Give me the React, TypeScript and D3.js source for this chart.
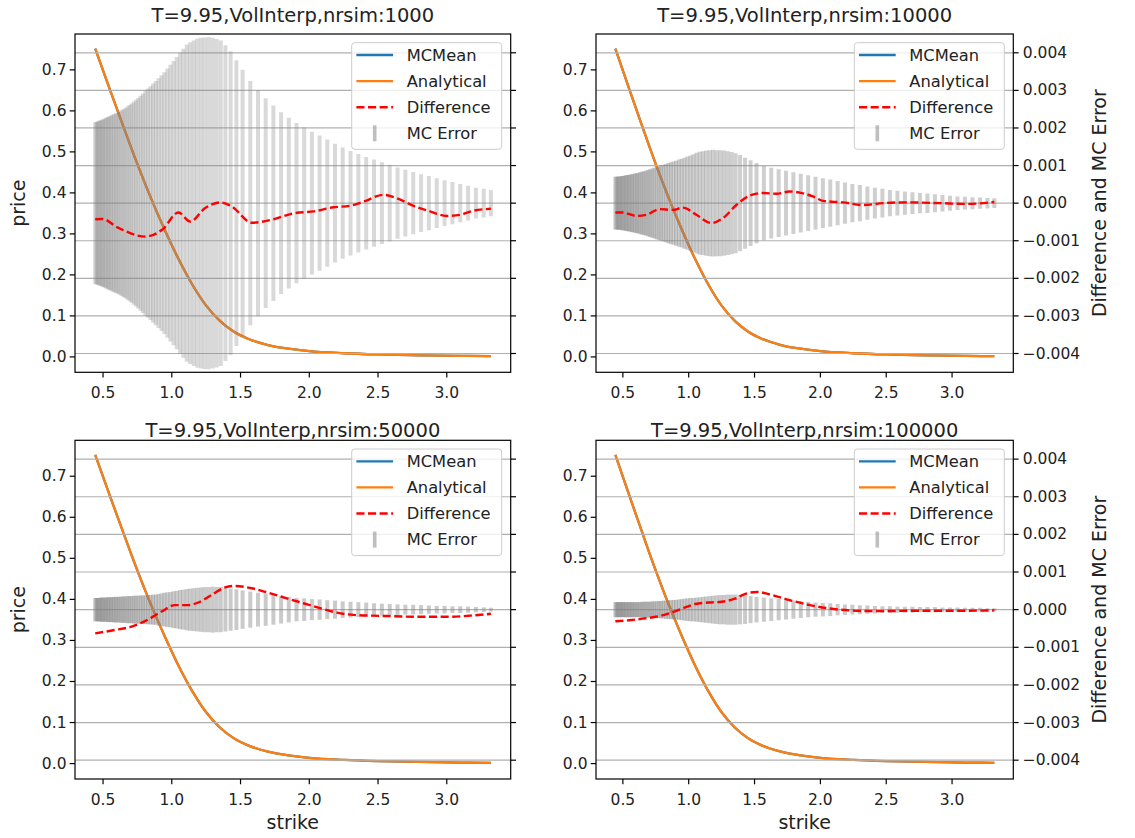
import React from "react";
import * as d3 from "d3";

// ---------------- data ----------------
const strikes = [
  0.443, 0.452, 0.461, 0.471, 0.481, 0.491, 0.501, 0.512, 0.523, 0.534,
  0.545, 0.557, 0.569, 0.581, 0.594, 0.607, 0.62, 0.634, 0.648, 0.662,
  0.677, 0.692, 0.707, 0.723, 0.739, 0.756, 0.773, 0.79, 0.808, 0.826,
  0.845, 0.864, 0.884, 0.904, 0.925, 0.946, 0.968, 0.99, 1.013, 1.036,
  1.06, 1.084, 1.109, 1.134, 1.16, 1.186, 1.213, 1.24, 1.268, 1.297,
  1.326, 1.356, 1.39, 1.428, 1.47, 1.515, 1.571, 1.627, 1.683, 1.739,
  1.795, 1.851, 1.907, 1.963, 2.019, 2.075, 2.131, 2.187, 2.243, 2.3,
  2.357, 2.414, 2.471, 2.528, 2.585, 2.642, 2.699, 2.756, 2.813, 2.87,
  2.927, 2.984, 3.041, 3.098, 3.155, 3.212, 3.269, 3.321,
];

// MC error half-widths, in units of 1e-4
const mcError1000 = [
  21.5, 21.6, 21.8, 21.9, 22.0, 22.2, 22.3, 22.5, 22.7, 22.9,
  23.1, 23.3, 23.5, 23.7, 23.9, 24.1, 24.4, 24.7, 25.0, 25.3,
  25.7, 26.1, 26.5, 27.0, 27.5, 28.0, 28.6, 29.2, 29.9, 30.5,
  31.1, 31.8, 32.5, 33.2, 34.0, 34.8, 35.8, 36.8, 37.8, 38.9,
  40.0, 41.1, 42.2, 42.8, 43.3, 43.8, 44.0, 44.1, 44.2, 44.0,
  43.7, 43.3, 42.0, 40.4, 38.0, 35.5, 32.5, 30.1, 27.9, 26.0,
  24.2, 22.7, 21.3, 20.1, 19.0, 18.0, 16.9, 15.8, 14.8, 13.9,
  13.1, 12.3, 11.6, 10.9, 10.2, 9.5, 8.9, 8.3, 7.7, 7.2,
  6.6, 6.1, 5.6, 5.1, 4.6, 4.1, 3.8, 3.5,
];
const mcError10000 = [
  7.0, 7.0, 7.1, 7.1, 7.1, 7.2, 7.2, 7.3, 7.4, 7.5,
  7.5, 7.6, 7.7, 7.8, 7.9, 8.0, 8.1, 8.3, 8.4, 8.5,
  8.7, 8.9, 9.0, 9.2, 9.4, 9.6, 9.8, 10.0, 10.2, 10.4,
  10.7, 10.9, 11.1, 11.3, 11.6, 11.8, 12.1, 12.4, 12.7, 13.0,
  13.4, 13.7, 13.8, 14.0, 14.1, 14.2, 14.1, 14.1, 14.0, 13.8,
  13.6, 13.3, 12.8, 12.1, 11.4, 10.7, 9.9, 9.4, 9.0, 8.6,
  8.2, 7.8, 7.4, 7.0, 6.6, 6.3, 5.9, 5.5, 5.1, 4.8,
  4.4, 4.1, 3.8, 3.5, 3.3, 3.1, 2.9, 2.7, 2.6, 2.4,
  2.2, 2.0, 1.8, 1.7, 1.6, 1.5, 1.4, 1.3,
];
const mcError50000 = [
  3.1, 3.1, 3.1, 3.1, 3.2, 3.2, 3.2, 3.2, 3.2, 3.3,
  3.3, 3.3, 3.3, 3.4, 3.4, 3.4, 3.4, 3.5, 3.5, 3.5,
  3.6, 3.6, 3.6, 3.7, 3.7, 3.7, 3.8, 3.8, 3.8, 3.9,
  3.9, 4.0, 4.0, 4.2, 4.3, 4.5, 4.6, 4.7, 4.9, 5.0,
  5.2, 5.3, 5.5, 5.6, 5.7, 5.8, 5.9, 6.0, 6.0, 6.1,
  6.0, 6.0, 5.8, 5.6, 5.4, 5.1, 4.8, 4.5, 4.3, 4.0,
  3.7, 3.4, 3.1, 3.0, 2.8, 2.7, 2.5, 2.4, 2.2, 2.1,
  2.0, 1.9, 1.7, 1.6, 1.5, 1.4, 1.3, 1.3, 1.2, 1.1,
  1.0, 1.0, 0.9, 0.9, 0.8, 0.7, 0.6, 0.5,
];
const mcError100000 = [
  2.0, 2.0, 2.0, 2.0, 2.0, 2.0, 2.0, 2.0, 2.0, 2.0,
  2.0, 2.0, 2.0, 2.0, 2.0, 2.0, 2.0, 2.0, 2.1, 2.1,
  2.1, 2.1, 2.1, 2.2, 2.2, 2.2, 2.3, 2.3, 2.4, 2.4,
  2.5, 2.5, 2.6, 2.6, 2.7, 2.8, 2.9, 3.0, 3.1, 3.1,
  3.2, 3.3, 3.4, 3.5, 3.6, 3.7, 3.8, 3.9, 3.9, 4.0,
  4.0, 4.0, 3.9, 3.8, 3.6, 3.4, 3.2, 3.0, 2.8, 2.6,
  2.4, 2.2, 2.0, 1.9, 1.8, 1.7, 1.5, 1.4, 1.3, 1.2,
  1.1, 1.0, 0.9, 0.9, 0.8, 0.8, 0.8, 0.7, 0.7, 0.7,
  0.6, 0.6, 0.6, 0.5, 0.5, 0.5, 0.4, 0.4,
];

// price curves
const curveStrikes = [0.443, 0.55, 0.65, 0.75, 0.85, 0.95, 1.05, 1.15, 1.25, 1.35, 1.45, 1.55, 1.7, 1.85, 2.0, 2.25, 2.5, 2.8, 3.1, 3.321];
const analyticalPrice = [0.752, 0.652, 0.56, 0.47, 0.386, 0.309, 0.238, 0.176, 0.125, 0.088, 0.062, 0.045, 0.029, 0.02, 0.014, 0.009, 0.006, 0.004, 0.0025, 0.002];
const mcMeanPrice = [0.752, 0.652, 0.56, 0.47, 0.386, 0.309, 0.238, 0.176, 0.125, 0.088, 0.062, 0.045, 0.029, 0.02, 0.014, 0.009, 0.006, 0.004, 0.0025, 0.002];

// Difference (MCMean - Analytical), units of 1e-4
const diffStrikes1000 = [0.443, 0.493, 0.613, 0.807, 0.929, 1.049, 1.134, 1.243, 1.352, 1.437, 1.583, 1.728, 1.885, 2.031, 2.176, 2.297, 2.394, 2.539, 2.637, 2.757, 2.879, 3.0, 3.097, 3.193, 3.321];
const diff1000 = [-4.3, -4.2, -6.6, -8.9, -7.1, -2.5, -4.9, -1.3, 0.2, -0.9, -5.2, -4.4, -2.7, -2.2, -1.1, -0.7, 0.4, 2.2, 1.3, -0.7, -2.2, -3.4, -3.1, -2.0, -1.5];
const diffStrikes10000 = [0.443, 0.5, 0.602, 0.678, 0.779, 0.88, 0.956, 1.058, 1.172, 1.26, 1.362, 1.463, 1.564, 1.666, 1.767, 1.843, 1.944, 2.02, 2.172, 2.324, 2.476, 2.653, 2.906, 3.109, 3.321];
const diff10000 = [-2.5, -2.5, -3.4, -3.1, -1.6, -1.8, -1.2, -3.1, -5.3, -4.0, -0.5, 2.0, 2.7, 2.5, 3.1, 2.8, 1.8, 0.6, 0.2, -0.5, 0.0, 0.2, 0.0, -0.2, 0.3];
const diffStrikes50000 = [0.443, 0.587, 0.708, 0.829, 0.926, 1.023, 1.12, 1.193, 1.289, 1.387, 1.459, 1.58, 1.701, 1.837, 1.958, 2.079, 2.201, 2.321, 2.564, 2.806, 3.0, 3.169, 3.321];
const diff50000 = [-6.3, -5.4, -4.5, -2.6, -0.5, 1.2, 1.2, 1.9, 3.9, 5.9, 6.3, 5.7, 4.5, 3.0, 1.7, 0.4, -0.8, -1.4, -1.7, -1.9, -1.9, -1.6, -1.1];
const diffStrikes100000 = [0.443, 0.55, 0.65, 0.75, 0.85, 0.95, 1.05, 1.15, 1.25, 1.35, 1.43, 1.52, 1.62, 1.77, 1.92, 2.07, 2.22, 2.4, 2.7, 3.0, 3.321];
const diff100000 = [-3.1, -2.8, -2.4, -1.9, -1.0, 0.3, 1.5, 1.9, 2.1, 2.9, 4.2, 4.7, 4.0, 2.5, 1.2, 0.3, -0.2, -0.4, -0.3, -0.3, -0.2];

const titles = [
  "T=9.95,VolInterp,nrsim:1000",
  "T=9.95,VolInterp,nrsim:10000",
  "T=9.95,VolInterp,nrsim:50000",
  "T=9.95,VolInterp,nrsim:100000",
];
const priceTicks = [0.0, 0.1, 0.2, 0.3, 0.4, 0.5, 0.6, 0.7];
const diffTicks = [-0.004, -0.003, -0.002, -0.001, 0.0, 0.001, 0.002, 0.003, 0.004];
const strikeTicks = [0.5, 1.0, 1.5, 2.0, 2.5, 3.0];
const legendLabels = ["MCMean", "Analytical", "Difference", "MC Error"];

// ---------------- styling ----------------
const FONT = "'DejaVu Sans', Verdana, sans-serif";
const BLUE = "#1f77b4";
const ORANGE = "#ff7f0e";
const RED = "#ff0000";
const E4 = 1e-4;

type PanelSpec = {
  x0: number; x1: number; y0: number; y1: number;
  title: string; titleY: number;
  err: number[]; dK: number[]; dV: number[];
  showRightLabels: boolean; showPriceLabel: boolean; showStrikeLabel: boolean;
  barOpacity: number;
};

const panels: PanelSpec[] = [
  { x0: 75, x1: 510.7, y0: 34, y1: 372.3, title: titles[0], titleY: 15, err: mcError1000, dK: diffStrikes1000, dV: diff1000, showRightLabels: false, showPriceLabel: true, showStrikeLabel: false, barOpacity: 0.3 },
  { x0: 596, x1: 1013.3, y0: 34, y1: 372.3, title: titles[1], titleY: 15, err: mcError10000, dK: diffStrikes10000, dV: diff10000, showRightLabels: true, showPriceLabel: false, showStrikeLabel: false, barOpacity: 0.38 },
  { x0: 75, x1: 510.7, y0: 440.3, y1: 779, title: titles[2], titleY: 430, err: mcError50000, dK: diffStrikes50000, dV: diff50000, showRightLabels: false, showPriceLabel: true, showStrikeLabel: true, barOpacity: 0.42 },
  { x0: 596, x1: 1013.3, y0: 440.3, y1: 779, title: titles[3], titleY: 430, err: mcError100000, dK: diffStrikes100000, dV: diff100000, showRightLabels: true, showPriceLabel: false, showStrikeLabel: true, barOpacity: 0.42 },
];

function Panel({ p, idx }: { p: PanelSpec; idx: number }) {
  const xs = d3.scaleLinear().domain([0.296, 3.465]).range([p.x0, p.x1]);
  const yp = d3.scaleLinear().domain([-0.0375, 0.7875]).range([p.y1, p.y0]);
  const yr = d3.scaleLinear().domain([-0.0045, 0.0045]).range([p.y1, p.y0]);

  const priceLine = d3
    .line<[number, number]>()
    .x((d) => xs(d[0]))
    .y((d) => yp(d[1]))
    .curve(d3.curveMonotoneX);
  const diffLine = d3
    .line<[number, number]>()
    .x((d) => xs(d[0]))
    .y((d) => yr(d[1] * E4))
    .curve(d3.curveMonotoneX);

  const mcPts = curveStrikes.map((k, i) => [k, mcMeanPrice[i]] as [number, number]);
  const anPts = curveStrikes.map((k, i) => [k, analyticalPrice[i]] as [number, number]);
  const dPts = p.dK.map((k, i) => [k, p.dV[i]] as [number, number]);

  const fmtPrice = d3.format(".1f");
  const fmtDiff = d3.format(".3f");
  const clipId = `clip${idx}`;
  const cx = (p.x0 + p.x1) / 2;
  const cy = (p.y0 + p.y1) / 2;

  // legend geometry
  const lw = 150;
  const lh = 106.6;
  const lx = p.x1 - 9 - lw;
  const ly = p.y0 + 8.7;
  const rowY = (i: number) => ly + 12.3 + i * 26.1;

  return (
    <g>
      <defs>
        <clipPath id={clipId}>
          <rect x={p.x0} y={p.y0} width={p.x1 - p.x0} height={p.y1 - p.y0} />
        </clipPath>
      </defs>
      <g clipPath={`url(#${clipId})`}>
        <path d={priceLine(mcPts) || ""} fill="none" stroke={BLUE} strokeWidth={2.3} />
        <path d={priceLine(anPts) || ""} fill="none" stroke={ORANGE} strokeWidth={2.3} />
        {diffTicks.map((t) => (
          <line key={t} x1={p.x0} x2={p.x1} y1={yr(t)} y2={yr(t)} stroke="#b0b0b0" strokeWidth={1.2} />
        ))}
        {strikes.map((k, i) => (
          <line
            key={i}
            x1={xs(k)}
            x2={xs(k)}
            y1={yr(-p.err[i] * E4)}
            y2={yr(p.err[i] * E4)}
            stroke="#808080"
            strokeOpacity={p.barOpacity}
            strokeWidth={4}
          />
        ))}
        <path d={diffLine(dPts) || ""} fill="none" stroke={RED} strokeWidth={2.4} strokeDasharray="8.1,3.5" />
      </g>

      {/* frame */}
      <rect x={p.x0} y={p.y0} width={p.x1 - p.x0} height={p.y1 - p.y0} fill="none" stroke="#000" strokeWidth={1.2} />

      {/* x ticks */}
      {strikeTicks.map((t) => (
        <g key={t}>
          <line x1={xs(t)} x2={xs(t)} y1={p.y1} y2={p.y1 + 5.3} stroke="#000" strokeWidth={1.2} />
          <text x={xs(t)} y={p.y1 + 20.5} textAnchor="middle" dominantBaseline="central" fontSize={15.5} fontFamily={FONT} fill="#222">
            {fmtPrice(t)}
          </text>
        </g>
      ))}
      {/* left price ticks */}
      {priceTicks.map((t) => (
        <g key={t}>
          <line x1={p.x0 - 5.3} x2={p.x0} y1={yp(t)} y2={yp(t)} stroke="#000" strokeWidth={1.2} />
          <text x={p.x0 - 8.5} y={yp(t)} textAnchor="end" dominantBaseline="central" fontSize={15.5} fontFamily={FONT} fill="#222">
            {fmtPrice(t)}
          </text>
        </g>
      ))}
      {/* right diff ticks */}
      {diffTicks.map((t) => (
        <g key={t}>
          <line x1={p.x1} x2={p.x1 + 5.3} y1={yr(t)} y2={yr(t)} stroke="#000" strokeWidth={1.2} />
          {p.showRightLabels && (
            <text x={p.x1 + 9.5} y={yr(t)} textAnchor="start" dominantBaseline="central" fontSize={15.5} fontFamily={FONT} fill="#222">
              {fmtDiff(t)}
            </text>
          )}
        </g>
      ))}

      {/* title */}
      <text x={cx} y={p.titleY} textAnchor="middle" dominantBaseline="central" fontSize={19.5} fontFamily={FONT} fill="#222">
        {p.title}
      </text>
      {p.showPriceLabel && (
        <text transform={`translate(18,${cy}) rotate(-90)`} textAnchor="middle" dominantBaseline="central" fontSize={19} fontFamily={FONT} fill="#222">
          price
        </text>
      )}
      {p.showRightLabels && (
        <text transform={`translate(1099,${cy}) rotate(-90)`} textAnchor="middle" dominantBaseline="central" fontSize={19} fontFamily={FONT} fill="#222">
          Difference and MC Error
        </text>
      )}
      {p.showStrikeLabel && (
        <text x={cx} y={822} textAnchor="middle" dominantBaseline="central" fontSize={19} fontFamily={FONT} fill="#222">
          strike
        </text>
      )}

      {/* legend */}
      <rect x={lx} y={ly} width={lw} height={lh} rx={3} fill="#fff" fillOpacity={0.8} stroke="#cccccc" strokeWidth={1} />
      <line x1={lx + 4.7} x2={lx + 41.4} y1={rowY(0)} y2={rowY(0)} stroke={BLUE} strokeWidth={2.3} />
      <line x1={lx + 4.7} x2={lx + 41.4} y1={rowY(1)} y2={rowY(1)} stroke={ORANGE} strokeWidth={2.3} />
      <line x1={lx + 4.7} x2={lx + 41.4} y1={rowY(2)} y2={rowY(2)} stroke={RED} strokeWidth={2.4} strokeDasharray="8.1,3.5" />
      <line x1={lx + 23} x2={lx + 23} y1={rowY(3) - 8} y2={rowY(3) + 8} stroke="#808080" strokeOpacity={0.5} strokeWidth={3.6} />
      {legendLabels.map((l, i) => (
        <text key={l} x={lx + 55} y={rowY(i)} dominantBaseline="central" fontSize={16.3} fontFamily={FONT} fill="#222">
          {l}
        </text>
      ))}
    </g>
  );
}

export default function App() {
  return (
    <svg
      width={1135}
      height={838}
      viewBox="0 0 1135 838"
      style={{ position: "absolute", left: 0, top: 0, background: "#fff" }}
    >
      <rect x={0} y={0} width={1135} height={838} fill="#fff" />
      {panels.map((p, i) => (
        <Panel key={i} p={p} idx={i} />
      ))}
    </svg>
  );
}
